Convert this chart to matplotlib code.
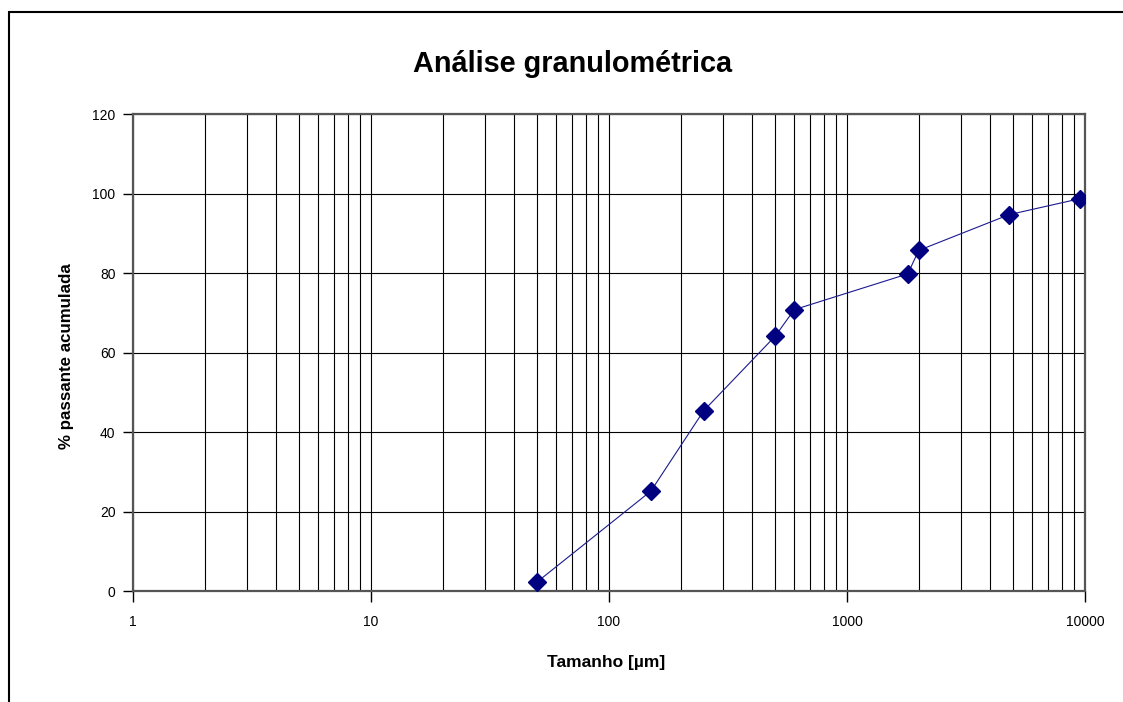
import matplotlib
matplotlib.use("Agg")
import matplotlib.pyplot as plt
from matplotlib.ticker import FixedLocator, NullFormatter, FixedFormatter
from matplotlib.patches import Rectangle

plt.rcParams['font.family'] = ['Liberation Sans', 'DejaVu Sans']

# sieve sizes [um] and cumulative % passing
tamanho = [50, 150, 250, 500, 600, 1800, 2000, 4800, 9500]
passante = [2.4, 25.2, 45.4, 64.2, 70.8, 79.8, 85.7, 94.7, 98.7]

x_ticks = [1, 10, 100, 1000, 10000]
x_tick_labels = ['1', '10', '100', '1000', '10000']
y_ticks = [0, 20, 40, 60, 80, 100, 120]

fig = plt.figure(figsize=(11.23, 7.02), dpi=100)
ax = fig.add_axes([0.1184, 0.1577, 0.8478, 0.6799])

# outer chart frame (runs off the right and bottom edges)
fig.patches.append(Rectangle((9 / 1123, -0.1), 1.2, 1 - 12 / 702 + 0.1,
                             transform=fig.transFigure, fill=False,
                             edgecolor='black', linewidth=1.5))

ax.plot(tamanho, passante, color='#1a1a90', linewidth=0.8,
        marker='D', markersize=9, markerfacecolor='#000080',
        markeredgecolor='#000080', zorder=3)

ax.set_xscale('log')
ax.set_xlim(1, 10000)
ax.set_ylim(0, 120)

# gridlines: every decade step on x, majors on y
minor = [m * 10 ** d for d in range(4) for m in range(2, 10)]
ax.xaxis.set_major_locator(FixedLocator(x_ticks))
ax.xaxis.set_major_formatter(FixedFormatter(x_tick_labels))
ax.xaxis.set_minor_locator(FixedLocator(minor))
ax.xaxis.set_minor_formatter(NullFormatter())
ax.set_yticks(y_ticks)
ax.grid(True, which='both', axis='x', color='black', linewidth=0.8)
ax.grid(True, which='major', axis='y', color='black', linewidth=0.8)
ax.set_axisbelow(True)

ax.tick_params(axis='x', which='major', direction='out', length=8, width=1, pad=9, labelsize=10)
ax.tick_params(axis='x', which='minor', length=0)
ax.tick_params(axis='y', direction='out', length=7.5, width=1, pad=5, labelsize=10)

for s in ax.spines.values():
    s.set_color('#555555')
    s.set_linewidth(1.6)

fig.text(573 / 1123, 1 - 64 / 702, 'Análise granulométrica', ha='center', va='center',
         fontsize=20.8, fontweight='bold')
fig.text(606 / 1123, 1 - 662 / 702, 'Tamanho [µm]', ha='center', va='center',
         fontsize=12.5, fontweight='bold')
fig.text(67 / 1123, 1 - 356 / 702, '% passante acumulada', ha='center', va='center',
         rotation=90, fontsize=12.2, fontweight='bold')

fig.savefig('out.png', dpi=100)
